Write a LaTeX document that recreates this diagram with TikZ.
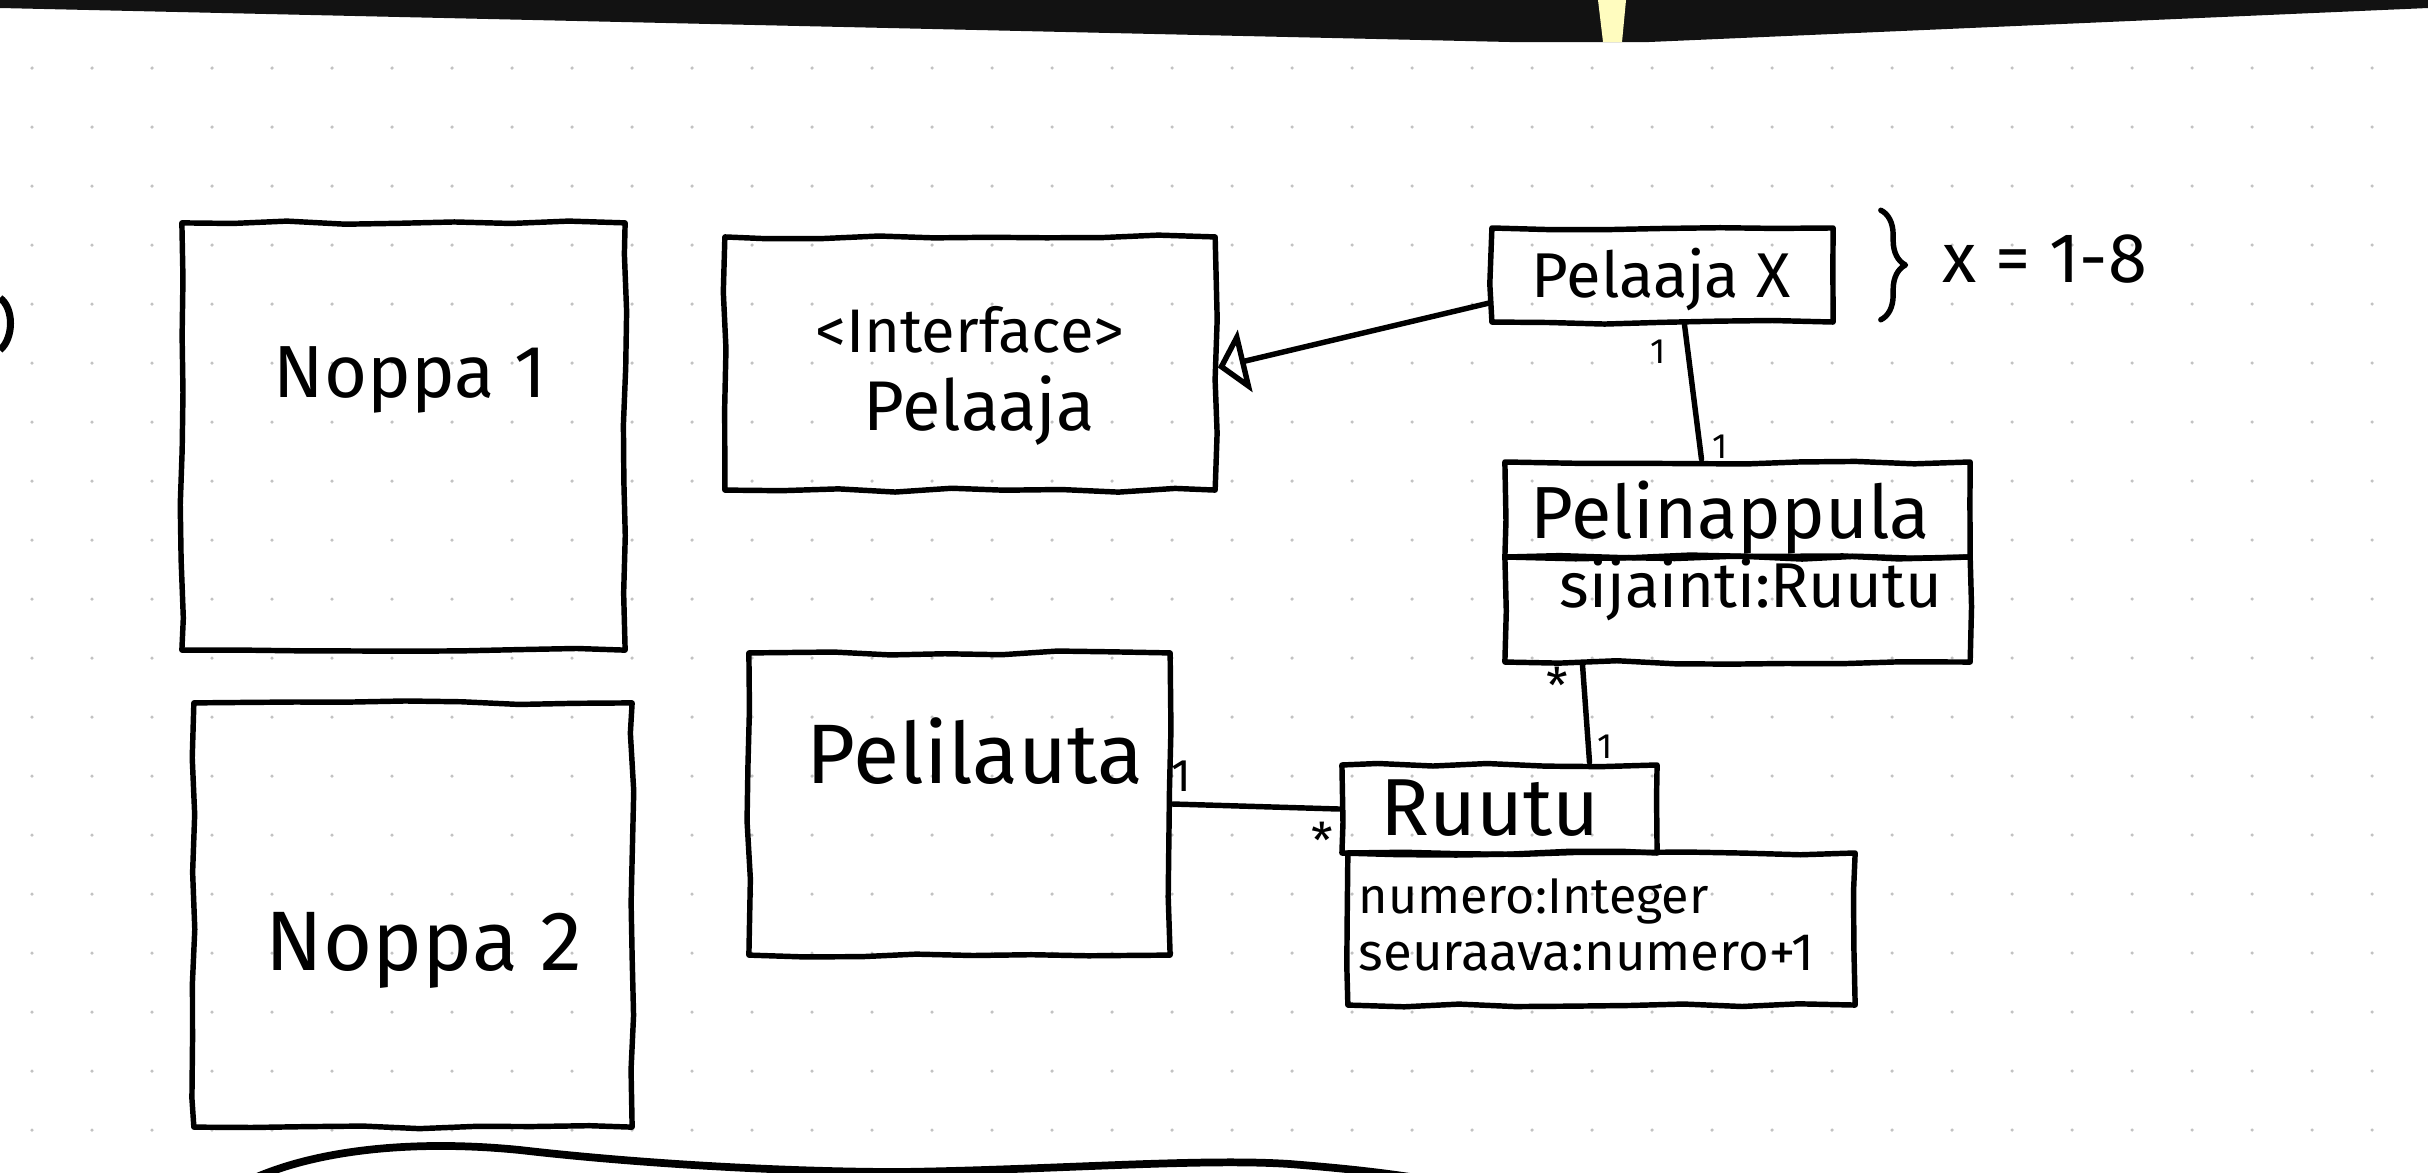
\documentclass[tikz,border=0pt]{standalone}
\usepackage{fontspec}
\setmainfont{Fira Sans}
\usetikzlibrary{calc,arrows.meta,decorations.pathmorphing,decorations.pathreplacing}

\begin{document}
\begin{tikzpicture}[x=0.01cm,y=-0.01cm,
  pen/.style={line width=1.55pt, line cap=round, line join=round},
  wobbly/.style={decorate, decoration={random steps, segment length=16pt, amplitude=0.6pt}},
  box/.style={pen, draw, wobbly, rectangle, inner sep=0pt},
  hand/.style={font=\fontsize{#1}{#1}\selectfont, inner sep=0pt, anchor=base},
  attr/.style={font=\fontsize{#1}{#1}\selectfont, inner sep=0pt, anchor=base west},
  mult/.style={font=\fontsize{#1}{#1}\selectfont, inner sep=0pt},
  realize/.style={pen, -{Triangle[open, length=8pt, width=18pt, line width=1.55pt]}}
]
\pgfmathsetseed{11}
\useasboundingbox (0,0) rectangle (2428,1172);
\fill[white] (0,0) rectangle (2428,1172);

% dotted grid of the notebook page
\foreach \i in {0,...,40} {
  \foreach \j in {0,...,18} {
    \fill[black!24] ({32+60*\i},{68+59*\j}) circle (0.5pt);
  }
}

% dark strip along the top edge
\fill[black!93] (0,0) -- (2428,0) -- (2428,8) -- (1649,42) -- (1510,42) -- (0,8) -- cycle;
\fill[yellow!25!white] (1598,0) -- (1626,0) -- (1622,42) -- (1603,42) -- cycle;

% page edge at the bottom and mark at the left edge
\draw[line width=2.2pt, line cap=round] (250,1180) .. controls (320,1148) and (420,1140) .. (520,1150)
  .. controls (650,1165) and (800,1172) .. (900,1172)
  .. controls (1050,1170) and (1200,1158) .. (1290,1164)
  .. controls (1340,1168) and (1380,1172) .. (1430,1180);
\draw[line width=2pt] (0,298) .. controls (14,308) and (14,338) .. (0,350);

% class boxes
\node[box, minimum width=4.43cm, minimum height=4.27cm] (n1) at (403.5,436.5) {};
\node[box, minimum width=4.38cm, minimum height=4.24cm] (n2) at (413,915) {};
\node[box, minimum width=4.90cm, minimum height=2.53cm] (ifc) at (970,363.5) {};
\node[box, minimum width=3.41cm, minimum height=0.94cm] (px) at (1662.5,275) {};
\node[box, minimum width=4.65cm, minimum height=0.95cm] (pnN) at (1737.5,509.5) {};
\node[box, minimum width=4.65cm, minimum height=1.05cm] (pnA) at (1737.5,609.5) {};
\node[box, minimum width=4.21cm, minimum height=3.02cm] (pl) at (959.5,804) {};
\node[box, minimum width=3.15cm, minimum height=0.88cm] (rn) at (1499.5,809) {};
\node[box, minimum width=5.07cm, minimum height=1.52cm] (ra) at (1601.5,929) {};

% texts
\node[hand=21] (t1) at (410,397) {Noppa 1};
\node[hand=24] (t2) at (424,970) {Noppa 2};
\node[hand=17.5] (tifc1) at (970,352) {\textless Interface\textgreater};
\node[hand=20] (tifc2) at (979,430) {Pelaaja};
\node[hand=18] (tpx) at (1661,297) {Pelaaja X};
\node[hand=20] (tx) at (2045,282) {x = 1-8};
\node[hand=21] (tpn) at (1730,538) {Pelinappula};
\node[hand=18] (tpa) at (1751,607) {sijainti:Ruutu};
\node[hand=24] (tpl) at (975,783) {Pelilauta};
\node[hand=23] (trn) at (1490,835) {Ruutu};
\node[attr=14.3] (tra1) at (1358,913) {numero:Integer};
\node[attr=15] (tra2) at (1358,970) {seuraava:numero+1};

% brace next to Pelaaja X
\draw[pen, decorate, decoration={brace, amplitude=7pt}]
  ($(px.north east)+(45,-15)$) -- ($(px.south east)+(45,-5)$);

% connectors
\draw[realize] ($(px.west)+(0,28)$) -- ($(ifc.east)+(0,4)$);
\draw[pen] ($(px.south)+(22,0)$) -- ($(pnN.north)+(-36,0)$);
\draw[pen] ($(pnA.south)+(-155,0)$) -- ($(rn.north)+(90,0)$);
\draw[pen] (pl.east) -- (rn.west);

% multiplicities
\node[mult=10] (m1) at (1658,352) {1};
\node[mult=10] (m2) at (1720,447) {1};
\node[mult=14] (m3) at (1557,685) {*};
\node[mult=10] (m4) at (1605,747) {1};
\node[mult=13] (m5) at (1181,776) {1};
\node[mult=14] (m6) at (1322,840) {*};
\end{tikzpicture}
\end{document}
